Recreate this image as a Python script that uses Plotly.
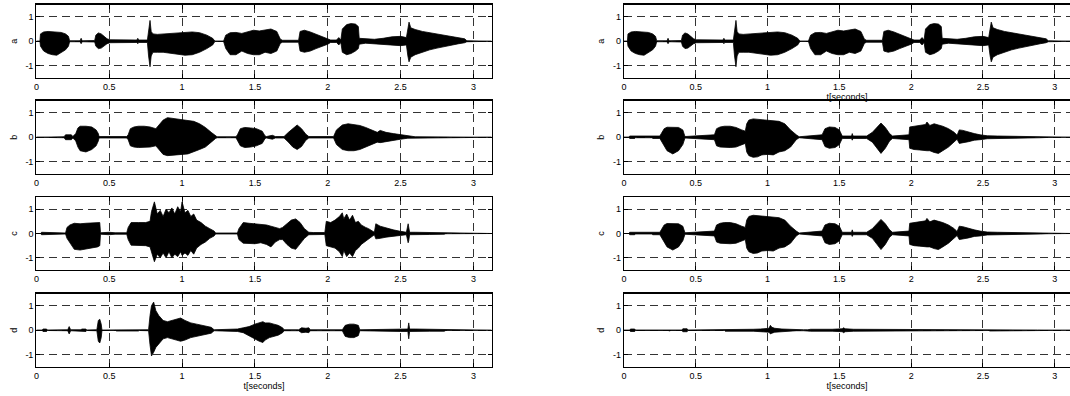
import plotly.graph_objects as go

# ---------------- data (envelopes) ----------------
a_t = [0.000, 0.024, 0.028, 0.050, 0.080, 0.110, 0.140, 0.170, 0.200, 0.220, 0.228, 0.300, 0.307, 0.314,
       0.400, 0.408, 0.425, 0.445, 0.465, 0.485, 0.505, 0.560, 0.640, 0.690, 0.696, 0.702, 0.762, 0.770,
       0.780, 0.788, 0.800, 0.830, 0.870, 0.920, 0.970, 1.020, 1.070, 1.120, 1.170, 1.210, 1.225, 1.285,
       1.300, 1.330, 1.370, 1.410, 1.450, 1.490, 1.530, 1.570, 1.610, 1.650, 1.675, 1.690, 1.800, 1.810,
       1.840, 1.880, 1.920, 1.960, 2.000, 2.020, 2.060, 2.076, 2.090, 2.100, 2.130, 2.160, 2.190, 2.210,
       2.216, 2.260, 2.320, 2.380, 2.440, 2.500, 2.540, 2.550, 2.558, 2.570, 2.600, 2.650, 2.700, 2.750,
       2.800, 2.850, 2.900, 2.940, 2.955, 3.125]
a_up = [0, 0, 0.30, 0.38, 0.40, 0.38, 0.38, 0.36, 0.30, 0.20, 0.02, 0.02, 0.12, 0.02,
        0.03, 0.25, 0.34, 0.30, 0.20, 0.10, 0.06, 0.05, 0.05, 0.05, 0.12, 0.05, 0.05, 0.50,
        0.85, 0.40, 0.30, 0.28, 0.30, 0.30, 0.32, 0.36, 0.38, 0.35, 0.25, 0.12, 0.01, 0.01,
        0.25, 0.35, 0.36, 0.32, 0.40, 0.45, 0.42, 0.45, 0.50, 0.40, 0.08, 0.04, 0.04, 0.40,
        0.45, 0.38, 0.28, 0.18, 0.10, 0.05, 0.05, 0.15, 0.05, 0.50, 0.68, 0.72, 0.70, 0.60,
        0.12, 0.10, 0.08, 0.12, 0.18, 0.20, 0.15, 0.50, 0.78, 0.55, 0.48, 0.40, 0.35, 0.30,
        0.25, 0.20, 0.15, 0.10, 0.02, 0]
a_lo = [0, 0, -0.20, -0.40, -0.50, -0.55, -0.57, -0.45, -0.35, -0.20, -0.02, -0.02, -0.10, -0.02,
        -0.03, -0.20, -0.30, -0.28, -0.20, -0.10, -0.06, -0.05, -0.05, -0.05, -0.10, -0.05, -0.05, -0.60,
        -1.04, -0.60, -0.45, -0.45, -0.45, -0.48, -0.52, -0.57, -0.55, -0.45, -0.30, -0.15, -0.01, -0.01,
        -0.30, -0.55, -0.55, -0.40, -0.50, -0.55, -0.55, -0.45, -0.50, -0.40, -0.08, -0.04, -0.04, -0.40,
        -0.45, -0.40, -0.30, -0.20, -0.12, -0.05, -0.05, -0.15, -0.05, -0.45, -0.55, -0.50, -0.40, -0.30,
        -0.12, -0.08, -0.08, -0.12, -0.15, -0.18, -0.15, -0.60, -0.84, -0.65, -0.55, -0.45, -0.35, -0.28,
        -0.22, -0.15, -0.10, -0.06, -0.02, 0]

b_t = [0.000, 0.190, 0.200, 0.240, 0.250, 0.270, 0.285, 0.300, 0.340, 0.380, 0.410, 0.425, 0.430,
       0.620, 0.630, 0.645, 0.670, 0.700, 0.740, 0.780, 0.820, 0.850, 0.870, 0.900, 0.930, 0.960,
       1.000, 1.040, 1.080, 1.120, 1.160, 1.200, 1.230, 1.240, 1.370, 1.380, 1.400, 1.430, 1.470,
       1.510, 1.550, 1.570, 1.580, 1.620, 1.640, 1.700, 1.730, 1.760, 1.790, 1.820, 1.850, 1.870,
       2.040, 2.060, 2.100, 2.140, 2.180, 2.220, 2.260, 2.300, 2.340, 2.360, 2.400, 2.450, 2.500,
       2.550, 2.600, 3.125]
b_up = [0, 0.02, 0.10, 0.10, 0.03, 0.15, 0.38, 0.45, 0.45, 0.42, 0.30, 0.15, 0.03,
        0.03, 0.10, 0.35, 0.42, 0.45, 0.45, 0.42, 0.35, 0.55, 0.70, 0.80, 0.78, 0.75,
        0.72, 0.70, 0.65, 0.55, 0.40, 0.20, 0.05, 0.02, 0.02, 0.10, 0.35, 0.40, 0.38,
        0.35, 0.25, 0.05, 0.03, 0.08, 0.03, 0.03, 0.20, 0.35, 0.50, 0.35, 0.12, 0.03,
        0.03, 0.30, 0.50, 0.55, 0.52, 0.48, 0.40, 0.30, 0.20, 0.28, 0.20, 0.15, 0.10,
        0.04, 0.02, 0]
b_lo = [0, -0.02, -0.10, -0.10, -0.03, -0.15, -0.40, -0.55, -0.60, -0.50, -0.35, -0.15, -0.03,
        -0.03, -0.10, -0.35, -0.40, -0.42, -0.42, -0.40, -0.35, -0.55, -0.70, -0.75, -0.75, -0.72,
        -0.70, -0.68, -0.60, -0.50, -0.40, -0.20, -0.05, -0.02, -0.02, -0.10, -0.35, -0.42, -0.40,
        -0.35, -0.25, -0.05, -0.03, -0.08, -0.03, -0.03, -0.20, -0.40, -0.50, -0.38, -0.12, -0.03,
        -0.03, -0.30, -0.50, -0.55, -0.55, -0.50, -0.40, -0.30, -0.20, -0.22, -0.18, -0.12, -0.08,
        -0.04, -0.02, 0]

c_t = [0.000, 0.030, 0.035, 0.080, 0.085, 0.200, 0.210, 0.230, 0.260, 0.300, 0.340, 0.380, 0.420,
       0.435, 0.440, 0.500, 0.540, 0.620, 0.630, 0.650, 0.700, 0.750, 0.780, 0.790, 0.810, 0.830,
       0.850, 0.870, 0.890, 0.910, 0.930, 0.950, 0.970, 0.990, 1.000, 1.020, 1.040, 1.060, 1.080,
       1.100, 1.130, 1.160, 1.190, 1.220, 1.230, 1.380, 1.390, 1.420, 1.460, 1.500, 1.540, 1.580,
       1.610, 1.640, 1.670, 1.690, 1.720, 1.750, 1.780, 1.810, 1.840, 1.870, 1.900, 1.980, 1.990,
       2.020, 2.050, 2.080, 2.100, 2.110, 2.130, 2.150, 2.170, 2.190, 2.210, 2.230, 2.260, 2.280,
       2.320, 2.330, 2.360, 2.400, 2.450, 2.490, 2.540, 2.552, 2.556, 2.562, 2.600, 2.700, 2.800,
       2.810, 3.125]
c_up = [0, 0, 0.05, 0.05, 0.02, 0.02, 0.25, 0.35, 0.42, 0.40, 0.42, 0.42, 0.45,
        0.45, 0.03, 0.05, 0.03, 0.03, 0.25, 0.45, 0.45, 0.45, 0.50, 0.90, 1.30, 0.80,
        0.95, 0.70, 1.00, 0.85, 1.05, 0.80, 1.10, 0.90, 1.30, 0.85, 0.95, 0.70, 0.80,
        0.55, 0.45, 0.30, 0.20, 0.10, 0.02, 0.02, 0.20, 0.45, 0.42, 0.40, 0.38, 0.35,
        0.30, 0.25, 0.20, 0.25, 0.40, 0.55, 0.60, 0.45, 0.20, 0.05, 0.04, 0.04, 0.50,
        0.45, 0.55, 0.70, 0.85, 0.60, 0.80, 0.55, 0.75, 0.45, 0.50, 0.35, 0.25, 0.20,
        0.05, 0.40, 0.30, 0.22, 0.15, 0.10, 0.05, 0.40, 0.30, 0.05, 0.05, 0.04, 0.03,
        0.01, 0]
c_lo = [0, 0, -0.05, -0.05, -0.02, -0.02, -0.20, -0.40, -0.65, -0.68, -0.65, -0.60, -0.55,
        -0.50, -0.03, -0.05, -0.03, -0.03, -0.25, -0.48, -0.50, -0.50, -0.55, -0.80, -1.16, -0.85,
        -1.00, -0.80, -1.00, -0.75, -1.00, -0.85, -0.95, -0.75, -0.90, -0.80, -0.90, -0.70, -0.85,
        -0.60, -0.45, -0.35, -0.20, -0.10, -0.02, -0.02, -0.25, -0.40, -0.40, -0.42, -0.38, -0.45,
        -0.55, -0.35, -0.25, -0.25, -0.45, -0.60, -0.65, -0.45, -0.20, -0.05, -0.04, -0.04, -0.50,
        -0.55, -0.60, -0.75, -0.95, -0.70, -0.95, -0.80, -0.95, -0.70, -0.60, -0.45, -0.30, -0.22,
        -0.05, -0.22, -0.20, -0.15, -0.12, -0.08, -0.05, -0.38, -0.30, -0.05, -0.05, -0.04, -0.03,
        -0.01, 0]

d_t = [0.000, 0.040, 0.045, 0.070, 0.075, 0.215, 0.225, 0.235, 0.305, 0.310, 0.340, 0.345,
       0.415, 0.425, 0.435, 0.445, 0.450, 0.545, 0.550, 0.700, 0.705, 0.770, 0.780, 0.790, 0.805,
       0.820, 0.840, 0.870, 0.900, 0.930, 0.960, 0.990, 1.020, 1.060, 1.100, 1.150, 1.200, 1.220,
       1.290, 1.330, 1.380, 1.420, 1.460, 1.500, 1.530, 1.555, 1.570, 1.600, 1.630, 1.660, 1.690,
       1.700, 1.800, 1.820, 1.850, 1.870, 1.880, 2.100, 2.120, 2.150, 2.180, 2.210, 2.220, 2.300,
       2.400, 2.500, 2.550, 2.556, 2.562, 2.600, 2.700, 2.800, 2.810, 3.125]
d_up = [0, 0, 0.05, 0.05, 0.01, 0.02, 0.15, 0.02, 0.02, 0.05, 0.05, 0.01,
        0.02, 0.40, 0.45, 0.25, 0.01, 0.01, 0.03, 0.03, 0.01, 0.02, 0.60, 1.00, 1.15,
        0.80, 0.60, 0.40, 0.35, 0.40, 0.45, 0.50, 0.40, 0.30, 0.25, 0.18, 0.12, 0.02,
        0.02, 0.05, 0.05, 0.10, 0.15, 0.25, 0.30, 0.35, 0.30, 0.30, 0.25, 0.20, 0.10,
        0.02, 0.02, 0.10, 0.08, 0.10, 0.02, 0.02, 0.20, 0.25, 0.25, 0.20, 0.02, 0.02,
        0.04, 0.05, 0.05, 0.30, 0.05, 0.05, 0.04, 0.04, 0.01, 0]
d_lo = [0, 0, -0.05, -0.05, -0.01, -0.02, -0.15, -0.02, -0.02, -0.05, -0.05, -0.01,
        -0.02, -0.45, -0.52, -0.30, -0.01, -0.01, -0.03, -0.03, -0.01, -0.02, -0.60, -1.05, -0.90,
        -0.70, -0.55, -0.35, -0.30, -0.35, -0.40, -0.45, -0.40, -0.30, -0.25, -0.18, -0.12, -0.02,
        -0.02, -0.05, -0.05, -0.10, -0.20, -0.35, -0.45, -0.50, -0.40, -0.30, -0.25, -0.20, -0.10,
        -0.02, -0.02, -0.10, -0.08, -0.10, -0.02, -0.02, -0.25, -0.30, -0.30, -0.22, -0.02, -0.02,
        -0.04, -0.05, -0.05, -0.35, -0.05, -0.05, -0.04, -0.04, -0.01, 0]

# right column
a2_t, a2_up, a2_lo = a_t, a_up, a_lo

b2_t = [0.000, 0.035, 0.040, 0.075, 0.080, 0.195, 0.200, 0.250, 0.260, 0.280, 0.300, 0.340, 0.380,
        0.410, 0.425, 0.630, 0.645, 0.670, 0.700, 0.740, 0.780, 0.820, 0.845, 0.855, 0.870, 0.900,
        0.930, 0.960, 1.000, 1.040, 1.080, 1.120, 1.160, 1.200, 1.220, 1.380, 1.400, 1.430, 1.470,
        1.500, 1.520, 1.585, 1.590, 1.595, 1.690, 1.730, 1.760, 1.790, 1.820, 1.850, 1.870, 1.985,
        1.990, 2.020, 2.060, 2.100, 2.110, 2.130, 2.160, 2.190, 2.220, 2.260, 2.300, 2.320, 2.335,
        2.360, 2.400, 2.440, 2.480, 2.530, 2.600, 2.700, 2.800, 2.900, 2.940, 3.125]
b2_up = [0, 0, 0.05, 0.05, 0.02, 0.02, 0.05, 0.05, 0.15, 0.35, 0.41, 0.41, 0.40,
         0.30, 0.03, 0.10, 0.35, 0.42, 0.45, 0.45, 0.40, 0.30, 0.25, 0.55, 0.70, 0.75,
         0.73, 0.70, 0.68, 0.66, 0.65, 0.55, 0.30, 0.10, 0.02, 0.10, 0.35, 0.42, 0.40,
         0.30, 0.05, 0.05, 0.15, 0.05, 0.05, 0.20, 0.40, 0.58, 0.40, 0.15, 0.05, 0.10,
         0.42, 0.45, 0.48, 0.52, 0.62, 0.48, 0.55, 0.50, 0.45, 0.35, 0.20, 0.08, 0.30,
         0.28, 0.20, 0.15, 0.10, 0.06, 0.05, 0.04, 0.03, 0.02, 0.01, 0]
b2_lo = [0, 0, -0.05, -0.05, -0.02, -0.02, -0.05, -0.05, -0.15, -0.35, -0.55, -0.68, -0.55,
         -0.30, -0.03, -0.10, -0.35, -0.40, -0.42, -0.42, -0.40, -0.30, -0.25, -0.60, -0.75, -0.82,
         -0.80, -0.72, -0.70, -0.72, -0.60, -0.55, -0.40, -0.10, -0.02, -0.10, -0.38, -0.45, -0.42,
         -0.30, -0.05, -0.05, -0.12, -0.05, -0.05, -0.20, -0.45, -0.66, -0.45, -0.15, -0.05, -0.10,
         -0.45, -0.50, -0.52, -0.55, -0.55, -0.55, -0.62, -0.66, -0.55, -0.40, -0.20, -0.08, -0.25,
         -0.22, -0.18, -0.12, -0.10, -0.06, -0.05, -0.04, -0.03, -0.02, -0.01, 0]

c2_t, c2_up, c2_lo = b2_t, b2_up, b2_lo

d2_t = [0.000, 0.040, 0.045, 0.075, 0.080, 0.312, 0.317, 0.322, 0.405, 0.410, 0.440, 0.445,
        0.700, 0.705, 0.900, 0.950, 1.010, 1.020, 1.030, 1.050, 1.080, 1.100, 1.150, 1.200,
        1.250, 1.280, 1.300, 1.450, 1.520, 1.530, 1.540, 1.600, 1.670, 1.680, 1.830, 1.840,
        1.920, 1.930, 2.100, 2.110, 2.180, 2.190, 2.540, 2.550, 2.870, 2.880, 3.125]
d2_up = [0, 0, 0.05, 0.05, 0.01, 0.01, 0.04, 0.01, 0.01, 0.06, 0.06, 0.01,
         0.01, 0.04, 0.04, 0.05, 0.08, 0.20, 0.12, 0.08, 0.08, 0.05, 0.04, 0.02,
         0.02, 0.02, 0.04, 0.04, 0.06, 0.10, 0.06, 0.04, 0.04, 0.01, 0.01, 0.03,
         0.03, 0.01, 0.01, 0.04, 0.04, 0.01, 0.01, 0.03, 0.03, 0.01, 0]
d2_lo = [0, 0, -0.05, -0.05, -0.01, -0.01, -0.04, -0.01, -0.01, -0.06, -0.06, -0.01,
         -0.01, -0.04, -0.04, -0.05, -0.08, -0.15, -0.12, -0.08, -0.08, -0.05, -0.04, -0.02,
         -0.02, -0.02, -0.04, -0.04, -0.06, -0.10, -0.06, -0.04, -0.04, -0.01, -0.01, -0.03,
         -0.03, -0.01, -0.01, -0.04, -0.04, -0.01, -0.01, -0.03, -0.03, -0.01, 0]

panel_names = ["a", "b", "c", "d"]
left_panels = [(a_t, a_up, a_lo), (b_t, b_up, b_lo), (c_t, c_up, c_lo), (d_t, d_up, d_lo)]
right_panels = [(a2_t, a2_up, a2_lo), (b2_t, b2_up, b2_lo), (c2_t, c2_up, c2_lo), (d2_t, d2_up, d2_lo)]

x_ticks = [0, 0.5, 1, 1.5, 2, 2.5, 3]
x_ticktext = ["0", "0.5", "1", "1.5", "2", "2.5", "3"]
y_ticks = [-1, 0, 1]
y_ticktext = ["-1", "0", "1"]

# ---------------- layout geometry ----------------
W, H = 1070, 396
col_px = [(33.5, 490.0), (622.7, 1070.0)]
col_range = [[0, 3.125], [0, (1070.0 - 622.7) / 144.0]]
row_px = [(4.5, 78.0), (100.5, 174.0), (197.0, 270.0), (293.5, 367.0)]

FONT = "Liberation Sans, Arial, Helvetica, sans-serif"

fig = go.Figure()
layout = dict(width=W, height=H, margin=dict(l=0, r=0, t=0, b=0),
              paper_bgcolor="white", plot_bgcolor="white", showlegend=False,
              font=dict(family=FONT, size=9, color="black"))

for c, panels in enumerate([left_panels, right_panels]):
    for r, (t, up, lo) in enumerate(panels):
        n = r * 2 + c + 1
        xs = "" if n == 1 else str(n)
        xp = list(t) + list(t)[::-1]
        yp = list(up) + list(lo)[::-1]
        fig.add_trace(go.Scatter(x=xp, y=yp, mode="lines", fill="toself",
                                 fillcolor="black", line=dict(color="black", width=0.8),
                                 xaxis="x" + xs, yaxis="y" + xs, hoverinfo="skip"))
        x0, x1 = col_px[c]
        y0, y1 = row_px[r]
        xa = dict(domain=[x0 / W, x1 / W], range=col_range[c], anchor="y" + xs,
                  tickvals=x_ticks, ticktext=x_ticktext, ticks="inside", ticklen=4,
                  tickcolor="black", showline=True, linecolor="black", linewidth=1.2,
                  mirror="ticks", showgrid=True, gridcolor="black", gridwidth=0.8,
                  griddash="8px,5px", zeroline=False, tickfont=dict(size=9, family=FONT))
        if r == 3 or (c == 1 and r == 0):
            xa["title"] = dict(text="t[seconds]", font=dict(size=9, family=FONT), standoff=2)
        ya = dict(domain=[1 - y1 / H, 1 - y0 / H], range=[-1.5, 1.5], anchor="x" + xs,
                  tickvals=y_ticks, ticktext=y_ticktext, ticks="inside", ticklen=4,
                  tickcolor="black", showline=True, linecolor="black", linewidth=1.2,
                  mirror=("ticks" if c == 0 else False), showgrid=True, gridcolor="black",
                  gridwidth=0.8, griddash="8px,5px", zeroline=False,
                  tickfont=dict(size=9, family=FONT),
                  title=dict(text=panel_names[r], font=dict(size=9, family=FONT), standoff=6))
        layout["xaxis" + xs] = xa
        layout["yaxis" + xs] = ya

fig.update_layout(**layout)
fig.write_html("out.html",
               config={"displayModeBar": False, "staticPlot": True},
               post_script="document.body.style.margin='0';document.body.style.overflow='hidden';")
